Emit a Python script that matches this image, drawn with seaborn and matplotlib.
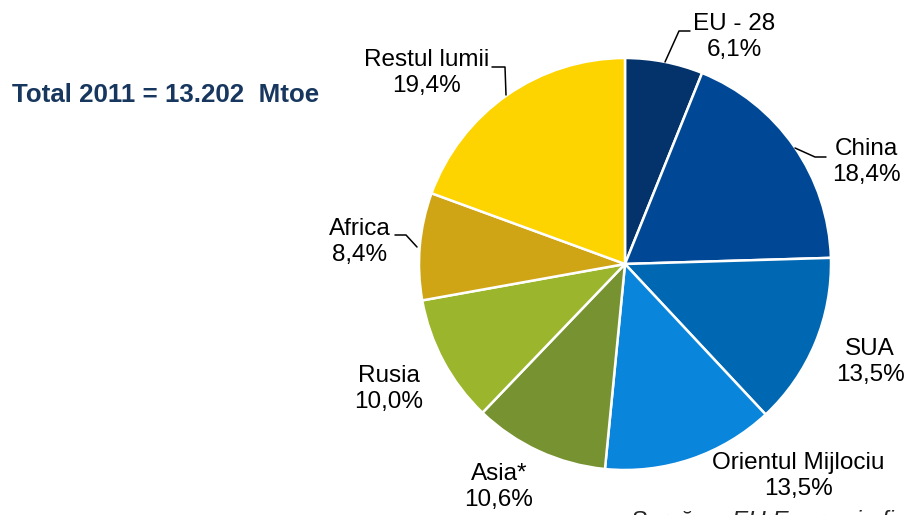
import matplotlib
matplotlib.use('Agg')
import matplotlib.pyplot as plt
import seaborn as sns

# date din grafic
regiuni = ['EU - 28', 'China', 'SUA', 'Orientul Mijlociu', 'Asia*', 'Rusia', 'Africa', 'Restul lumii']
procente = [6.1, 18.4, 13.5, 13.5, 10.6, 10.0, 8.4, 19.4]
etichete_pct = ['6,1%', '18,4%', '13,5%', '13,5%', '10,6%', '10,0%', '8,4%', '19,4%']
culori = ['#03336A', '#004896', '#0068B3', '#0A85DC', '#779230', '#9BB52C', '#CFA515', '#FDD300']

sns.set_style('white')
plt.rcParams['font.family'] = ['Liberation Sans', 'DejaVu Sans']

W, H = 906, 515
fig = plt.figure(figsize=(W / 100, H / 100), dpi=100)
ax = fig.add_axes([0, 0, 1, 1])

# centrul si raza placintei, in pixeli (y in sus)
cx, cy, r = 625, H - 264, 206

ax.pie(procente, colors=sns.color_palette(culori), startangle=90, counterclock=False,
       center=(cx, cy), radius=r,
       wedgeprops=dict(edgecolor='white', linewidth=1.8))
ax.set_xlim(0, W)
ax.set_ylim(0, H)
ax.set_aspect('equal')
ax.axis('off')

# pozitii etichete (centrul blocului, x, y imagine)
pozitii = {
    'EU - 28': (734, 37),
    'China': (866, 162),
    'SUA': (870, 362),
    'Orientul Mijlociu': (798, 476),
    'Asia*': (499, 487),
    'Rusia': (389, 389),
    'Africa': (360, 242),
    'Restul lumii': (427, 73),
}
for reg, pct in zip(regiuni, etichete_pct):
    x, y = pozitii[reg]
    ax.text(x, H - y, reg + '\n' + pct, ha='center', va='center', fontsize=17.5,
            color='black', linespacing=1.2)

# linii de legatura
linii = [
    [(665, 62), (679, 31), (690, 31)],
    [(795, 148), (815, 157), (826, 157)],
    [(492, 67), (505, 67), (506, 95)],
    [(395, 235), (406, 235), (417, 247)],
]
for ln in linii:
    xs = [p[0] for p in ln]
    ys = [H - p[1] for p in ln]
    ax.plot(xs, ys, color='black', lw=1.1)

ax.text(12, H - 95, 'Total 2011 = 13.202  Mtoe', fontsize=18.6, fontweight='bold',
        color='#17375E', ha='left', va='center')

# sursa, taiata jos ca in original
ax.text(632, H - 528, 'Sursă:', fontsize=17.5, ha='left', va='baseline', clip_on=False)
ax.text(732, H - 528, 'EU Energy in figures 2013', fontsize=17.5, style='italic',
        ha='left', va='baseline', clip_on=False)

fig.savefig('out.png', dpi=100)
